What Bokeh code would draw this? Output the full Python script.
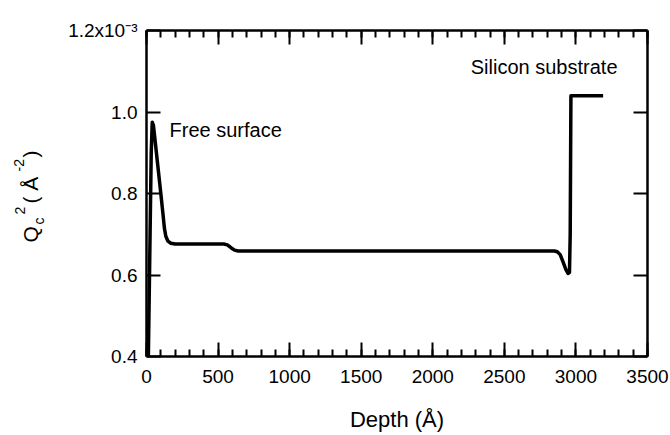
import math
from bokeh.plotting import figure
from bokeh.layouts import row
from bokeh.models import FixedTicker, LinearAxis, Label, Range1d
from bokeh.embed import file_html
from bokeh.resources import INLINE

# Depth (Angstrom) and Qc^2 (units of 1e-3 Angstrom^-2)
depth = [5, 15, 25, 33, 40, 48, 60, 80, 100, 115, 125, 135, 150, 170, 200,
         400, 540, 565, 590, 615, 640, 1000, 2000, 2850, 2870, 2890, 2910,
         2930, 2945, 2955, 2960, 2965, 3190]
qc2 = [0.20, 0.45, 0.70, 0.90, 0.975, 0.968, 0.93, 0.865, 0.80, 0.75, 0.715,
       0.695, 0.683, 0.678, 0.676, 0.676, 0.676, 0.674, 0.667, 0.661, 0.659,
       0.659, 0.659, 0.659, 0.657, 0.650, 0.632, 0.613, 0.604, 0.606, 0.70,
       1.04, 1.04]

x_major = [0, 500, 1000, 1500, 2000, 2500, 3000, 3500]
x_minor = list(range(0, 3501, 100))
y_major = [0.4, 0.6, 0.8, 1.0, 1.2]
y_labels = {0.4: "0.4", 0.6: "0.6", 0.8: "0.8", 1.0: "1.0", 1.2: "1.2x10\u207b\u00b3"}

FONT = "Liberation Sans"
H = 435
LW = 56  # width of the strip that holds the y-axis title
TOP, BOT = 30, 356  # frame top / bottom in pixels

# ---- strip with the rotated y-axis title (frame aligned with main frame) ----
t = figure(width=LW, height=H, output_backend="svg", toolbar_location=None,
           x_range=Range1d(0, LW), y_range=Range1d(H - BOT, H - TOP),
           x_axis_type=None, y_axis_type=None, min_border=0,
           min_border_top=TOP, min_border_bottom=H - BOT)
t.grid.visible = False
t.outline_line_color = None

def tlab(text, px, py, size):
    t.add_layout(Label(x=px, y=H - py, text=text, text_font=FONT,
                       text_font_size=f"{size}px", text_color="black",
                       angle=math.pi / 2, text_align="left",
                       text_baseline="alphabetic"))

tlab("Q", 30, 242, 21)
tlab("c", 38, 224, 14)
tlab("2", 19, 214, 14)
tlab("( Å", 30, 203, 21)
tlab("-2", 18, 171, 14)
tlab(")", 30, 157, 21)

# ---- main plot ----
p = figure(width=670 - LW, height=H, output_backend="svg", toolbar_location=None,
           x_range=Range1d(0, 3500), y_range=Range1d(0.4, 1.2),
           min_border_left=146 - LW, min_border_right=23, min_border_top=TOP,
           min_border_bottom=H - BOT, background_fill_color="white",
           border_fill_color="white")
p.grid.visible = False
p.outline_line_color = None

p.line(depth, qc2, line_color="black", line_width=3.5, line_join="round")

def style_axis(ax, xaxis, show_labels):
    ax.axis_line_width = 2.5
    ax.axis_line_color = "black"
    ax.major_tick_line_width = 2
    ax.minor_tick_line_width = 2
    ax.major_tick_in = 14
    ax.major_tick_out = 0
    if xaxis:
        ax.ticker = FixedTicker(ticks=x_major, minor_ticks=x_minor)
        ax.minor_tick_in = 7
        ax.minor_tick_out = 0
    else:
        ax.ticker = FixedTicker(ticks=y_major, minor_ticks=[])
    ax.major_label_text_font = FONT
    ax.major_label_text_font_size = "19px"
    ax.major_label_text_color = "black"
    ax.major_label_standoff = 10
    if not show_labels:
        ticks = x_major if xaxis else y_major
        ax.major_label_overrides = {v: "" for v in ticks}

xb = p.xaxis[0]
style_axis(xb, True, True)
xb.major_label_standoff = 13
xb.axis_label = "Depth (Å)"
xb.axis_label_text_font = FONT
xb.axis_label_text_font_size = "22px"
xb.axis_label_text_font_style = "normal"
xb.axis_label_text_color = "black"
xb.axis_label_standoff = 21

yl = p.yaxis[0]
style_axis(yl, False, True)
yl.major_label_overrides = y_labels
yl.major_label_standoff = 9

top = LinearAxis()
style_axis(top, True, False)
p.add_layout(top, "above")
right = LinearAxis()
style_axis(right, False, False)
p.add_layout(right, "right")

def dx(px):
    return (px - 146) * 3500 / 501.0
def dy(py):
    return 1.2 - (py - TOP) * 0.8 / (BOT - TOP)

def lab(text, px, py, size, align="left"):
    p.add_layout(Label(x=dx(px), y=dy(py), text=text, text_font=FONT,
                       text_font_size=f"{size}px", text_color="black",
                       text_align=align, text_baseline="alphabetic"))

lab("Free surface", 169, 129, 20)
lab("Silicon substrate", 617, 66, 20, align="right")

layout = row(t, p, spacing=0)
open("out.html", "w").write(file_html(layout, INLINE))
